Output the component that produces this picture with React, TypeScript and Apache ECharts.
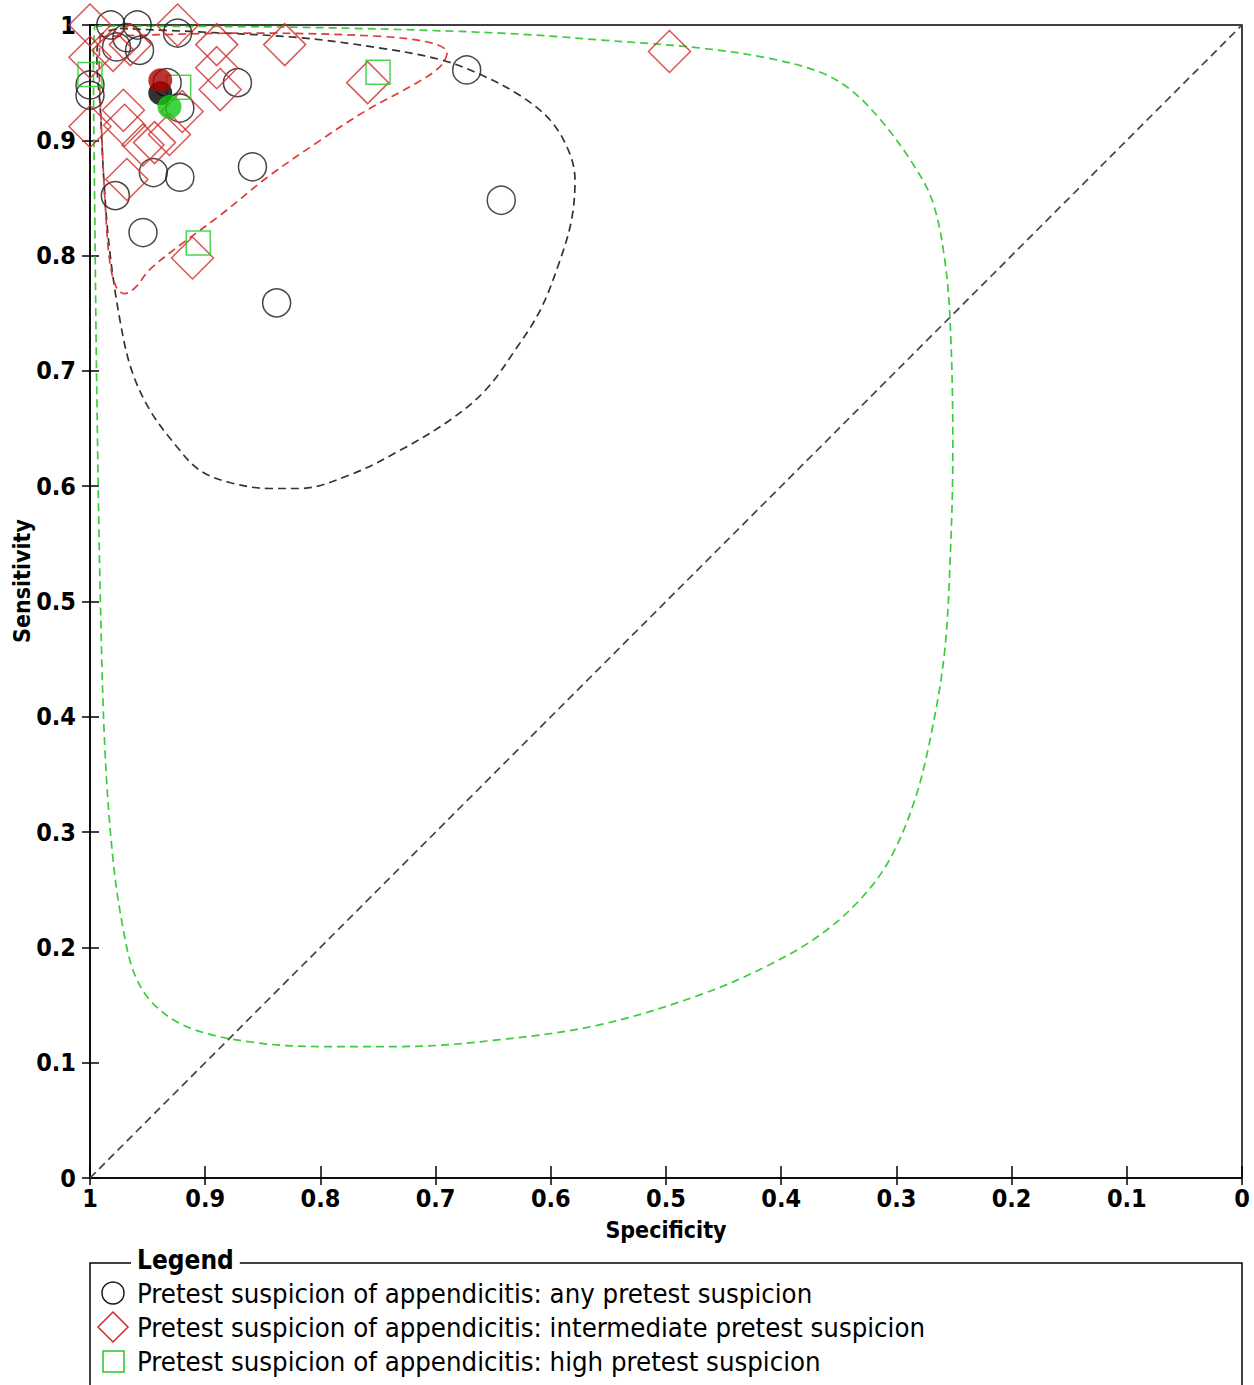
import React, { useEffect, useRef } from "react";
import * as echarts from "echarts";

// [specificity, sensitivity]
const anyPretest: number[][] = [
  [0.982, 1.0], [0.959, 1.0], [0.924, 0.993], [0.977, 0.981], [0.968, 0.989],
  [0.957, 0.978], [1.0, 0.948], [1.0, 0.939], [0.933, 0.95], [0.922, 0.928],
  [0.872, 0.95], [0.673, 0.961], [0.945, 0.872], [0.922, 0.868], [0.859, 0.877],
  [0.978, 0.852], [0.954, 0.82], [0.643, 0.848], [0.838, 0.759],
];
const intermediatePretest: number[][] = [
  [1.0, 1.0], [0.924, 1.0], [0.98, 0.978], [0.965, 0.983], [1.0, 0.972],
  [0.89, 0.983], [0.831, 0.983], [0.89, 0.963], [0.887, 0.944], [0.759, 0.95],
  [0.497, 0.977], [0.971, 0.926], [1.0, 0.912], [0.97, 0.913], [0.954, 0.896],
  [0.944, 0.898], [0.931, 0.905], [0.92, 0.925], [0.968, 0.866], [0.911, 0.798],
];
const highPretest: number[][] = [
  [1.0, 0.957], [0.923, 0.946], [0.75, 0.959], [0.906, 0.811],
];
const summaryAny: number[][] = [[0.939, 0.941]];
const summaryIntermediate: number[][] = [[0.939, 0.952]];
const summaryHigh: number[][] = [[0.931, 0.929]];

const regionAny: number[][] = [
  [0.974, 0.997], [0.905, 0.994], [0.818, 0.989], [0.748, 0.98], [0.696, 0.97],
  [0.661, 0.957], [0.627, 0.939], [0.601, 0.918], [0.585, 0.892], [0.579, 0.866],
  [0.582, 0.831], [0.592, 0.796], [0.609, 0.753], [0.631, 0.718], [0.657, 0.683],
  [0.688, 0.657], [0.731, 0.631], [0.774, 0.61], [0.818, 0.598], [0.844, 0.598],
  [0.878, 0.603], [0.905, 0.614], [0.926, 0.636], [0.948, 0.666], [0.964, 0.701],
  [0.974, 0.744], [0.983, 0.805], [0.988, 0.866], [0.991, 0.926], [0.994, 0.97],
  [0.991, 0.991], [0.974, 0.997],
];
const regionIntermediate: number[][] = [
  [0.991, 0.99], [0.861, 0.993], [0.746, 0.99], [0.702, 0.984], [0.69, 0.976],
  [0.696, 0.964], [0.716, 0.95], [0.76, 0.926], [0.803, 0.898], [0.846, 0.868],
  [0.887, 0.835], [0.922, 0.809], [0.948, 0.788], [0.961, 0.772], [0.97, 0.767],
  [0.977, 0.772], [0.983, 0.796], [0.987, 0.848], [0.99, 0.909], [0.992, 0.97],
  [0.991, 0.99],
];
const regionHigh: number[][] = [
  [0.996, 0.999], [0.818, 0.998], [0.644, 0.993], [0.557, 0.987], [0.47, 0.98],
  [0.41, 0.971], [0.366, 0.959], [0.34, 0.944], [0.314, 0.918], [0.288, 0.883],
  [0.269, 0.848], [0.258, 0.796], [0.253, 0.735], [0.251, 0.631], [0.253, 0.545],
  [0.258, 0.458], [0.269, 0.389], [0.284, 0.328], [0.306, 0.276], [0.332, 0.241],
  [0.366, 0.211], [0.41, 0.185], [0.47, 0.159], [0.557, 0.133], [0.644, 0.12],
  [0.731, 0.114], [0.8, 0.114], [0.861, 0.118], [0.913, 0.13], [0.944, 0.15],
  [0.961, 0.176], [0.971, 0.215], [0.98, 0.276], [0.987, 0.371], [0.991, 0.501],
  [0.994, 0.675], [0.996, 0.848], [0.997, 0.97], [0.996, 0.999],
];
const diagonal: number[][] = [[1, 0], [0, 1]];

const legendLabels = [
  "Pretest suspicion of appendicitis: any pretest suspicion",
  "Pretest suspicion of appendicitis: intermediate pretest suspicion",
  "Pretest suspicion of appendicitis: high pretest suspicion",
];

const BLACK = "#1a1a1a";
const RED = "#d22a2a";
const GREEN = "#22c922";
const COND = "'DejaVu Sans Condensed', 'DejaVu Sans'";

const fmt = (v: number) => (v === 0 ? "0" : v === 1 ? "1" : v.toFixed(1));
const tickFont = { fontFamily: COND, fontWeight: "bold" as const, fontSize: 25, color: "#000" };

export default function App() {
  const ref = useRef<HTMLDivElement>(null);
  useEffect(() => {
    const chart = echarts.init(ref.current!, null, { renderer: "svg" });
    const dashed = (color: string, data: number[][]) => ({
      type: "line",
      data,
      smooth: 0.35,
      symbol: "none",
      clip: false,
      lineStyle: { color, width: 1.7, type: [8, 5] },
      z: 2,
    });
    const gridBox = { left: 90, top: 25, right: 12, bottom: 207, outerBoundsMode: "none", containLabel: false };
    const tickLine = { color: "#000", width: 1.5 };
    chart.setOption({
      animation: false,
      backgroundColor: "#fff",
      grid: [
        { ...gridBox, show: true, borderColor: "#000", borderWidth: 1.5, backgroundColor: "transparent" },
        { ...gridBox, show: false },
      ],
      xAxis: [
        {
          type: "value", gridIndex: 0, min: 0, max: 1, interval: 0.1, inverse: true,
          name: "Specificity", nameLocation: "middle", nameGap: 40,
          nameTextStyle: { fontFamily: COND, fontWeight: "bold", fontSize: 23, color: "#000" },
          axisLine: { show: true, onZero: false, lineStyle: { color: "#000", width: 1.5 } },
          axisTick: { show: true, length: 7, lineStyle: tickLine },
          axisLabel: { ...tickFont, margin: 8, formatter: fmt },
          splitLine: { show: false },
        },
        {
          type: "value", gridIndex: 1, min: 0, max: 1, interval: 0.1, inverse: true, position: "bottom",
          axisLine: { show: false, onZero: false },
          axisTick: { show: true, inside: true, length: 12, lineStyle: tickLine },
          axisLabel: { show: false },
          splitLine: { show: false },
        },
      ],
      yAxis: [
        {
          type: "value", gridIndex: 0, min: 0, max: 1, interval: 0.1, position: "left",
          axisLine: { show: true, onZero: false, lineStyle: { color: "#000", width: 1.5 } },
          axisTick: { show: true, length: 8, lineStyle: tickLine },
          axisLabel: { ...tickFont, margin: 14, formatter: fmt },
          splitLine: { show: false },
        },
        {
          type: "value", gridIndex: 1, min: 0, max: 1, interval: 0.1, position: "left",
          axisLine: { show: false, onZero: false },
          axisTick: { show: true, inside: true, length: 9, lineStyle: tickLine },
          axisLabel: { show: false },
          splitLine: { show: false },
        },
      ],
      series: [
        { ...dashed("#444", diagonal), smooth: false },
        dashed("#333", regionAny),
        dashed("#e03a3a", regionIntermediate),
        dashed("#3ccc3c", regionHigh),
        {
          type: "scatter", data: anyPretest, symbol: "circle", symbolSize: 28, clip: false, z: 3,
          itemStyle: { color: "transparent", borderColor: BLACK, borderWidth: 1.5 },
        },
        {
          type: "scatter", data: intermediatePretest, symbol: "diamond", symbolSize: 42, clip: false, z: 4,
          itemStyle: { color: "transparent", borderColor: RED, borderWidth: 1.5 },
        },
        {
          type: "scatter", data: highPretest, symbol: "rect", symbolSize: 24, clip: false, z: 5,
          itemStyle: { color: "transparent", borderColor: GREEN, borderWidth: 1.5 },
        },
        { type: "scatter", data: summaryAny, symbol: "circle", symbolSize: 24, clip: false, z: 6, itemStyle: { color: "#000" } },
        { type: "scatter", data: summaryIntermediate, symbol: "circle", symbolSize: 24, clip: false, z: 6, itemStyle: { color: "#b00000" } },
        { type: "scatter", data: summaryHigh, symbol: "circle", symbolSize: 24, clip: false, z: 7, itemStyle: { color: "#11c811" } },
      ],
      graphic: [
        {
          type: "text", x: 22, y: 581, rotation: Math.PI / 2, z: 11,
          style: { text: "Sensitivity", font: `bold 23px ${COND}`, fill: "#000", align: "center", verticalAlign: "middle" },
        },
        {
          type: "rect", shape: { x: 90, y: 1263, width: 1152, height: 150 },
          style: { fill: "none", stroke: "#000", lineWidth: 1.5 }, z: 10,
        },
        {
          type: "text", x: 131, y: 1260, z: 11,
          style: { text: "Legend", font: `bold 26px ${COND}`, fill: "#000", backgroundColor: "#fff", padding: [0, 6], verticalAlign: "middle" },
        },
        { type: "circle", shape: { cx: 113, cy: 1293, r: 11 }, style: { fill: "none", stroke: BLACK, lineWidth: 1.5 }, z: 11 },
        { type: "polygon", shape: { points: [[113, 1312], [128, 1327], [113, 1342], [98, 1327]] }, style: { fill: "none", stroke: RED, lineWidth: 1.5 }, z: 11 },
        { type: "rect", shape: { x: 103, y: 1351, width: 21, height: 21 }, style: { fill: "none", stroke: GREEN, lineWidth: 1.5 }, z: 11 },
        ...legendLabels.map((t, i) => ({
          type: "text", x: 137, y: 1293 + i * 34, z: 11,
          style: { text: t, font: `27.3px ${COND}`, fill: "#000", verticalAlign: "middle" },
        })),
      ],
    });
    return () => chart.dispose();
  }, []);
  return (
    <div
      ref={ref}
      style={{ position: "absolute", left: 0, top: 0, width: 1254, height: 1385, background: "#fff" }}
    />
  );
}
